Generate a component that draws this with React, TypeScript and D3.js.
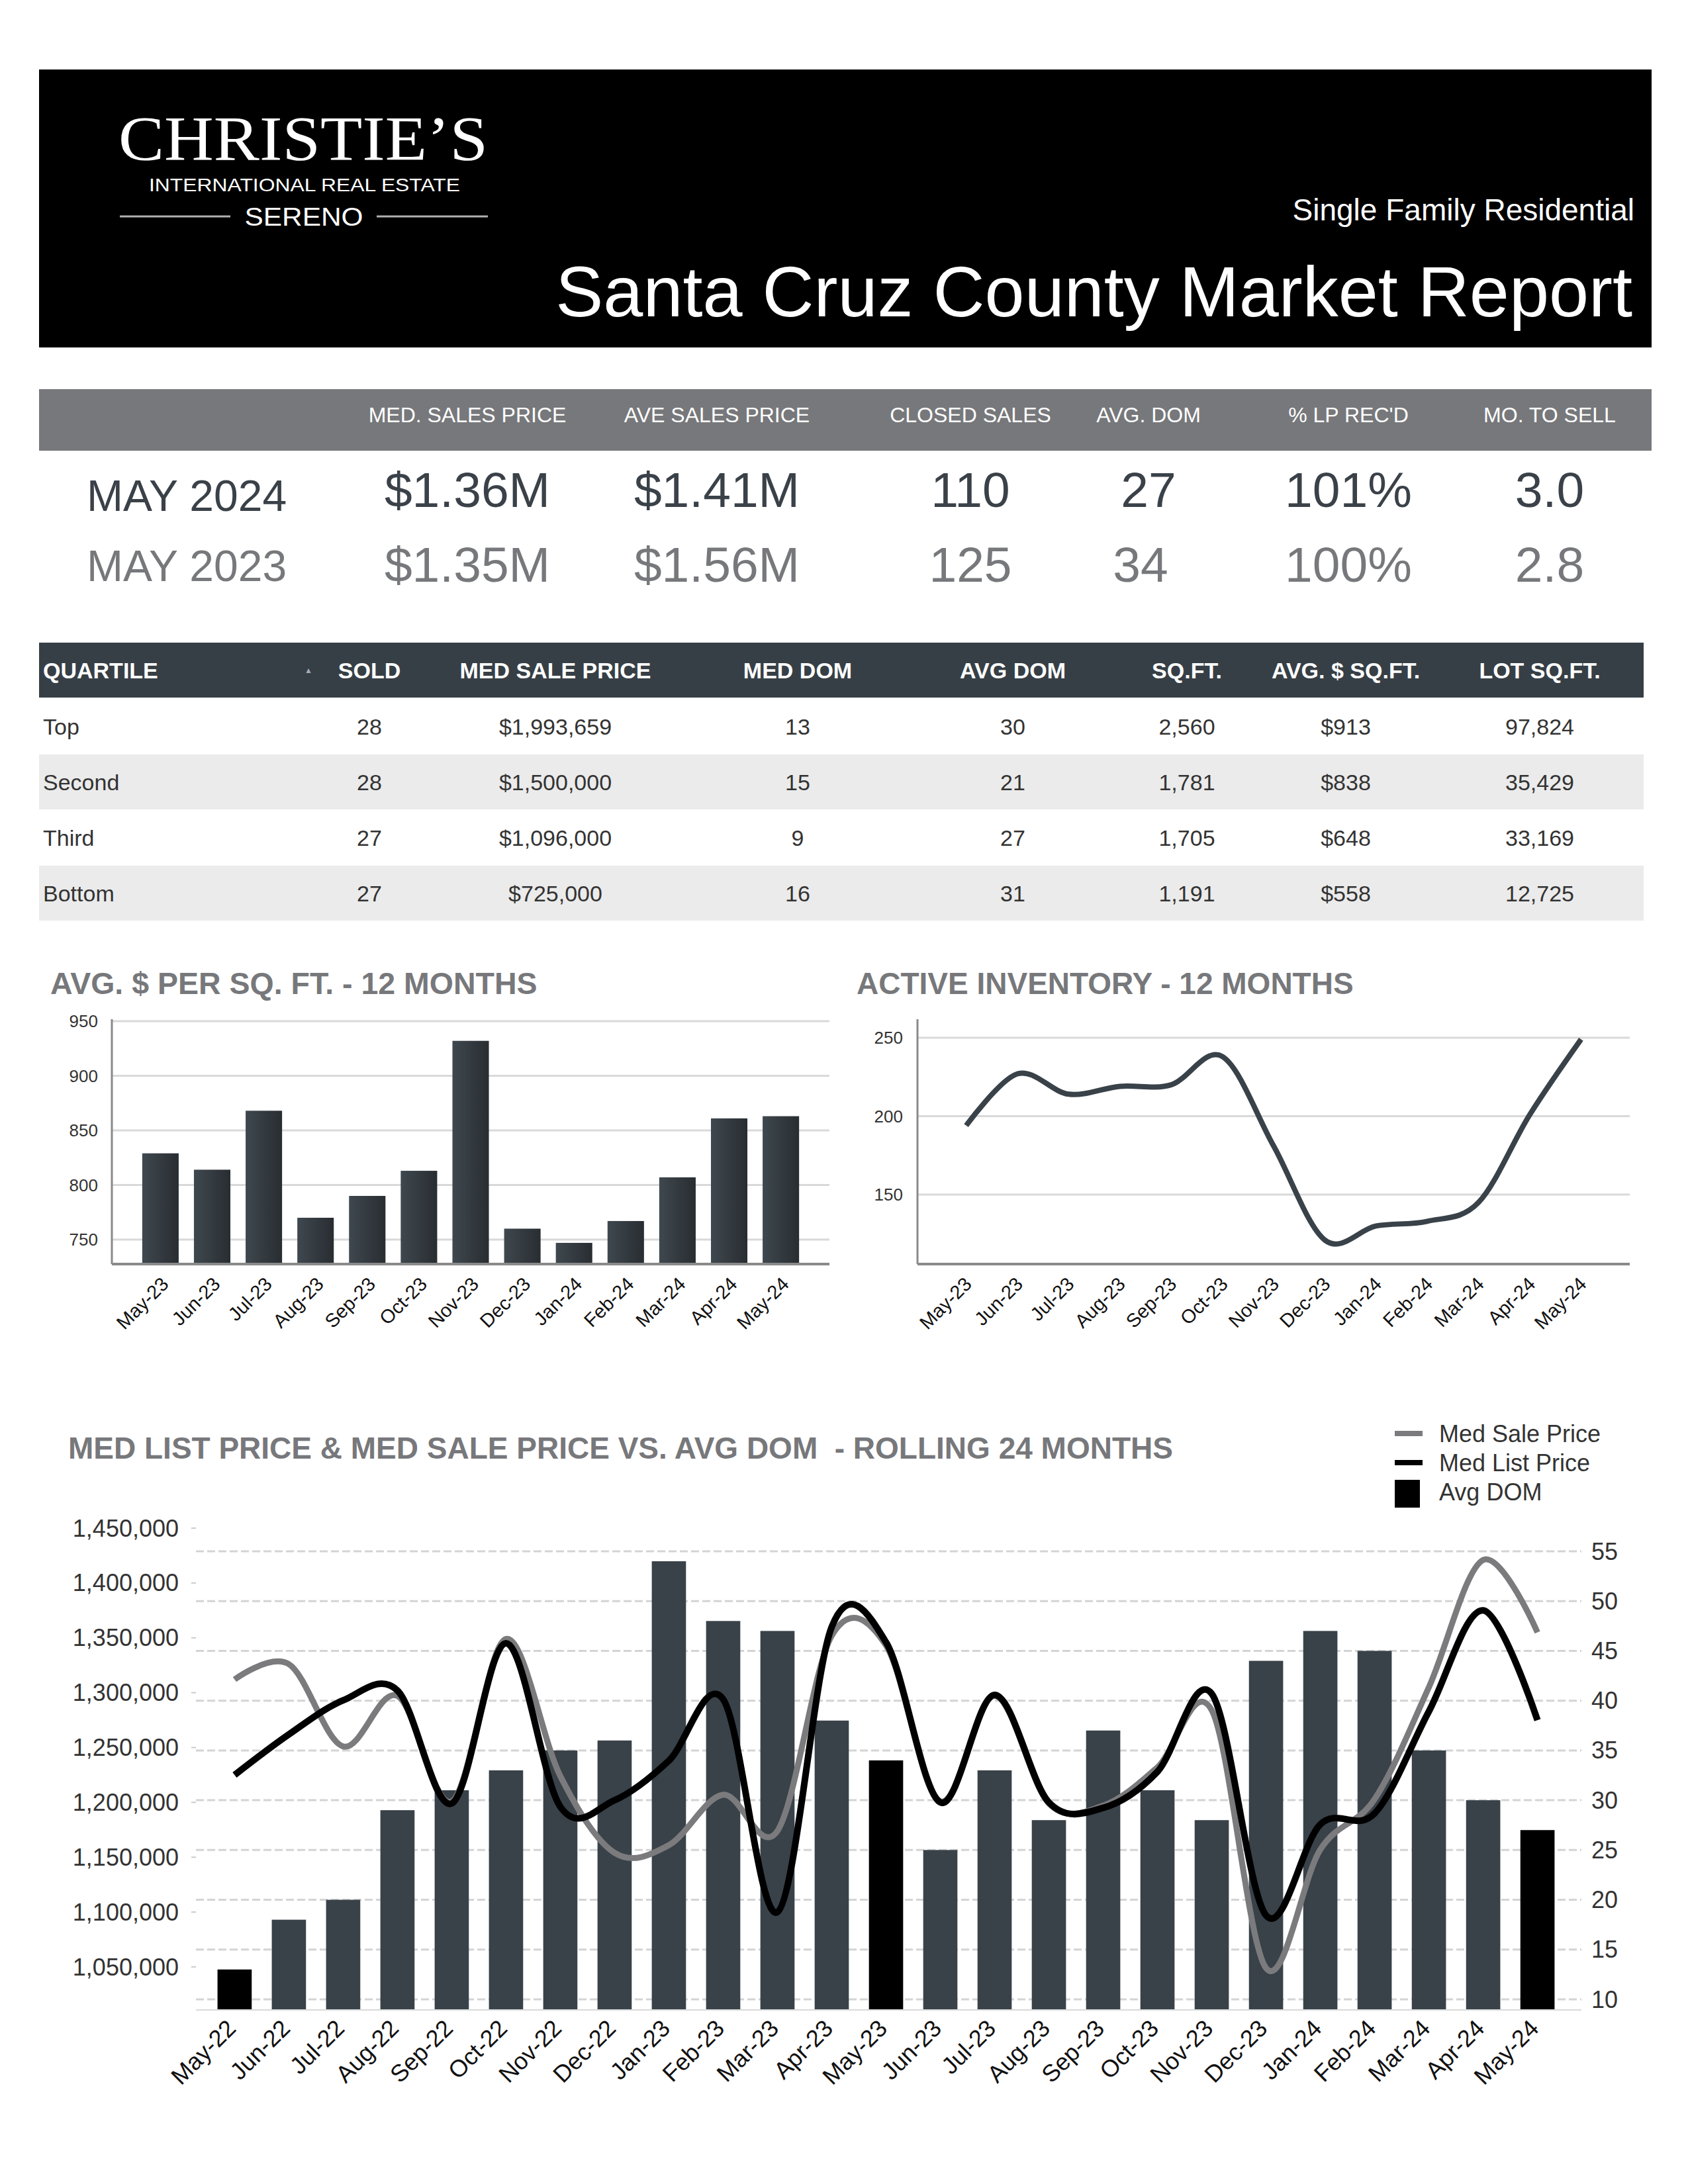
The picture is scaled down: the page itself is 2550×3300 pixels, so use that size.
import * as d3 from 'd3';

const FONT = '"Liberation Sans", Arial, Helvetica, sans-serif';
const SERIF = '"Liberation Serif", "Times New Roman", serif';
const SLATE = '#394249';
const HEAD_SLATE = '#373f46';
const TITLE_GREY = '#77787b';
const TEXT = '#333333';

// summary strip
const summaryHeaders = ['MED. SALES PRICE', 'AVE SALES PRICE', 'CLOSED SALES', 'AVG. DOM', "% LP REC'D", 'MO. TO SELL'];
const may2024 = ['$1.36M', '$1.41M', '110', '27', '101%', '3.0'];
const may2023 = ['$1.35M', '$1.56M', '125', '34', '100%', '2.8'];

// quartile table
const quartileHeaders = ['QUARTILE', 'SOLD', 'MED SALE PRICE', 'MED DOM', 'AVG DOM', 'SQ.FT.', 'AVG. $ SQ.FT.', 'LOT SQ.FT.'];
const quartileRows = [
  ['Top', '28', '$1,993,659', '13', '30', '2,560', '$913', '97,824'],
  ['Second', '28', '$1,500,000', '15', '21', '1,781', '$838', '35,429'],
  ['Third', '27', '$1,096,000', '9', '27', '1,705', '$648', '33,169'],
  ['Bottom', '27', '$725,000', '16', '31', '1,191', '$558', '12,725'],
];

// 12 month charts
const months13 = ['May-23', 'Jun-23', 'Jul-23', 'Aug-23', 'Sep-23', 'Oct-23', 'Nov-23', 'Dec-23', 'Jan-24', 'Feb-24', 'Mar-24', 'Apr-24', 'May-24'];
const avgPricePerSqft = [829, 814, 868, 770, 790, 813, 932, 760, 747, 767, 807, 861, 863];
const ppsfTicks = [750, 800, 850, 900, 950];
const activeInventory = [194, 227, 214, 219, 220, 238, 181, 121, 130, 133, 145, 201, 249];
const inventoryTicks = [150, 200, 250];

// rolling 24 months
const months25 = ['May-22', 'Jun-22', 'Jul-22', 'Aug-22', 'Sep-22', 'Oct-22', 'Nov-22', 'Dec-22', 'Jan-23', 'Feb-23', 'Mar-23', 'Apr-23', 'May-23', 'Jun-23', 'Jul-23', 'Aug-23', 'Sep-23', 'Oct-23', 'Nov-23', 'Dec-23', 'Jan-24', 'Feb-24', 'Mar-24', 'Apr-24', 'May-24'];
const avgDom = [13, 18, 20, 29, 31, 33, 35, 36, 54, 48, 47, 38, 34, 25, 33, 28, 37, 31, 28, 44, 47, 45, 35, 30, 27];
const highlightMonths = ['May-22', 'May-23', 'May-24'];
const medListPrice = [1225000, 1262000, 1293000, 1302000, 1199000, 1345000, 1196000, 1202000, 1238000, 1294000, 1100000, 1360000, 1346000, 1200000, 1298000, 1200000, 1195000, 1228000, 1299000, 1097000, 1180000, 1190000, 1283000, 1375000, 1275000];
const medSalePrice = [1312000, 1326000, 1251000, 1297000, 1201000, 1349000, 1224000, 1154000, 1161000, 1207000, 1174000, 1352000, 1343000, 1201000, 1297000, 1199000, 1197000, 1232000, 1284000, 1049000, 1157000, 1203000, 1305000, 1421000, 1355000];
const priceTicks = [1050000, 1100000, 1150000, 1200000, 1250000, 1300000, 1350000, 1400000, 1450000];
const domTicks = [10, 15, 20, 25, 30, 35, 40, 45, 50, 55];
const legendItems = [
  { label: 'Med Sale Price', kind: 'line', color: '#7b7b7e' },
  { label: 'Med List Price', kind: 'line', color: '#000000' },
  { label: 'Avg DOM', kind: 'box', color: '#000000' },
];

function Header() {
  return (
    <g>
      <rect x={59} y={105} width={2436} height={420} fill="#000" />
      <text x={179} y={242} fill="#fff" fontFamily={SERIF} fontSize={96} textLength={558} lengthAdjust="spacingAndGlyphs">CHRISTIE’S</text>
      <text x={225} y={289} fill="#fff" fontFamily={FONT} fontSize={28} textLength={470} lengthAdjust="spacingAndGlyphs">INTERNATIONAL REAL ESTATE</text>
      <line x1={181} x2={348} y1={327} y2={327} stroke="#b0b0b0" strokeWidth={3} />
      <line x1={569} x2={737} y1={327} y2={327} stroke="#b0b0b0" strokeWidth={3} />
      <text x={459} y={341} fill="#fff" fontFamily={FONT} fontSize={38} textAnchor="middle" textLength={179} lengthAdjust="spacingAndGlyphs">SERENO</text>
      <text x={2469} y={333} fill="#fff" fontFamily={FONT} fontSize={46} textAnchor="end">Single Family Residential</text>
      <text x={2466} y={478} fill="#fff" fontFamily={FONT} fontSize={108} textAnchor="end">Santa Cruz County Market Report</text>
    </g>
  );
}

function Summary() {
  const cx = [706, 1083, 1466, 1735, 2037, 2341];
  return (
    <g fontFamily={FONT}>
      <rect x={59} y={588} width={2436} height={93} fill="#77787b" />
      {summaryHeaders.map((h, i) => (
        <text key={h} x={cx[i]} y={638} fill="#fff" fontSize={32} textAnchor="middle">{h}</text>
      ))}
      <text x={131} y={772} fill="#3a4148" fontSize={66}>MAY 2024</text>
      {may2024.map((v, i) => (
        <text key={'a' + i} x={cx[i]} y={766} fill="#3a4148" fontSize={75} textAnchor="middle">{v}</text>
      ))}
      <text x={131} y={878} fill="#77787b" fontSize={66}>MAY 2023</text>
      {may2023.map((v, i) => (
        <text key={'b' + i} x={i === 3 ? cx[i] - 12 : cx[i]} y={879} fill="#77787b" fontSize={75} textAnchor="middle">{v}</text>
      ))}
    </g>
  );
}

function QuartileTable() {
  const colX = [65, 558, 839, 1205, 1530, 1793, 2033, 2326];
  const rowH = 84;
  const top = 1056;
  return (
    <g fontFamily={FONT}>
      <rect x={59} y={971} width={2424} height={83} fill={HEAD_SLATE} />
      {quartileHeaders.map((h, i) => (
        <text key={h} x={colX[i]} y={1013} dy="0.35em" fill="#fff" fontSize={34} fontWeight="bold" textAnchor={i === 0 ? 'start' : 'middle'}>{h}</text>
      ))}
      <text x={466} y={1013} dy="0.35em" fill="#aab" fontSize={12} textAnchor="middle">▲</text>
      {quartileRows.map((row, r) => (
        <g key={row[0]}>
          <rect x={59} y={top + r * rowH} width={2424} height={rowH - 1} fill={r % 2 === 1 ? '#ebebeb' : '#fff'} />
          {row.map((c, i) => (
            <text key={i} x={colX[i]} y={top + r * rowH + rowH / 2} dy="0.35em" fill={TEXT} fontSize={34} textAnchor={i === 0 ? 'start' : 'middle'}>{c}</text>
          ))}
        </g>
      ))}
    </g>
  );
}

function PricePerSqftChart() {
  const left = 169, right = 1253, top = 1540, bottom = 1910;
  const x = d3.scaleBand().domain(months13).range([left, right]).paddingInner(0.295).paddingOuter(0.587);
  const y = d3.scaleLinear().domain([750, 950]).range([1873, 1543]);
  return (
    <g fontFamily={FONT}>
      <defs>
        <linearGradient id="barGrad" x1="0" x2="1" y1="0" y2="0">
          <stop offset="0" stopColor="#3f484f" />
          <stop offset="1" stopColor="#282d31" />
        </linearGradient>
      </defs>
      <text x={76} y={1502} fill={TITLE_GREY} fontSize={46.5} fontWeight="bold">AVG. $ PER SQ. FT. - 12 MONTHS</text>
      {ppsfTicks.map(t => (
        <g key={t}>
          <line x1={left} x2={right} y1={y(t)} y2={y(t)} stroke="#d9d9d9" strokeWidth={3} />
          <text x={148} y={y(t)} dy="0.35em" fill={TEXT} fontSize={26} textAnchor="end">{t}</text>
        </g>
      ))}
      {months13.map((m, i) => (
        <rect key={m} x={x(m)} y={y(avgPricePerSqft[i])} width={x.bandwidth()} height={bottom - y(avgPricePerSqft[i])} fill="url(#barGrad)" />
      ))}
      <line x1={left} x2={left} y1={top} y2={bottom} stroke="#8a8a8a" strokeWidth={3} />
      <line x1={left} x2={right} y1={bottom} y2={bottom} stroke="#8a8a8a" strokeWidth={4} />
      {months13.map(m => (
        <text key={m} transform={`translate(${(x(m) ?? 0) + x.bandwidth() / 2 + 14},${bottom + 32}) rotate(-45)`} fill="#111" fontSize={29} textAnchor="end">{m}</text>
      ))}
    </g>
  );
}

function InventoryChart() {
  const left = 1386, right = 2462, top = 1540, bottom = 1910;
  const x = d3.scalePoint().domain(months13).range([left, right]).padding(0.95);
  const y = d3.scaleLinear().domain([150, 250]).range([1805, 1568]);
  const line = d3.line<number>()
    .x((_, i) => x(months13[i]) ?? 0)
    .y(d => y(d))
    .curve(d3.curveCardinal.tension(0));
  return (
    <g fontFamily={FONT}>
      <text x={1294} y={1502} fill={TITLE_GREY} fontSize={46} fontWeight="bold">ACTIVE INVENTORY - 12 MONTHS</text>
      {inventoryTicks.map(t => (
        <g key={t}>
          <line x1={left} x2={right} y1={y(t)} y2={y(t)} stroke="#d9d9d9" strokeWidth={3} />
          <text x={1364} y={y(t)} dy="0.35em" fill={TEXT} fontSize={26} textAnchor="end">{t}</text>
        </g>
      ))}
      <path d={line(activeInventory) ?? ''} fill="none" stroke={SLATE} strokeWidth={8} />
      <line x1={left} x2={left} y1={top} y2={bottom} stroke="#8a8a8a" strokeWidth={3} />
      <line x1={left} x2={right} y1={bottom} y2={bottom} stroke="#8a8a8a" strokeWidth={4} />
      {months13.map(m => (
        <text key={m} transform={`translate(${(x(m) ?? 0) + 10},${bottom + 32}) rotate(-45)`} fill="#111" fontSize={29} textAnchor="end">{m}</text>
      ))}
    </g>
  );
}

function RollingChart() {
  const left = 296, right = 2389, bottom = 3037;
  const x = d3.scaleBand().domain(months25).range([297, 2380]).paddingInner(0.37).paddingOuter(0.385);
  const yPrice = d3.scaleLinear().domain([1050000, 1450000]).range([2972, 2309]);
  const yDom = d3.scaleLinear().domain([10, 55]).range([3021, 2344]);
  const cx = (i: number) => (x(months25[i]) ?? 0) + x.bandwidth() / 2;
  const line = d3.line<number>()
    .x((_, i) => cx(i))
    .y(d => yPrice(d))
    .curve(d3.curveCardinal.tension(0));
  const fmt = d3.format(',');
  return (
    <g fontFamily={FONT}>
      <text x={103} y={2204} fill={TITLE_GREY} fontSize={46} fontWeight="bold" xmlSpace="preserve">MED LIST PRICE &amp; MED SALE PRICE VS. AVG DOM  - ROLLING 24 MONTHS</text>
      {legendItems.map((it, i) => (
        <g key={it.label}>
          {it.kind === 'line'
            ? <line x1={2107} x2={2149} y1={2166 + i * 44} y2={2166 + i * 44} stroke={it.color} strokeWidth={8} />
            : <rect x={2107} y={2236} width={38} height={42} fill={it.color} />}
          <text x={2174} y={2166 + i * 44} dy="0.35em" fill={TEXT} fontSize={36}>{it.label}</text>
        </g>
      ))}
      {domTicks.map(t => (
        <g key={t}>
          <line x1={left} x2={right} y1={yDom(t)} y2={yDom(t)} stroke="#d4d4d4" strokeWidth={3} strokeDasharray="12,5" />
          <text x={2404} y={yDom(t)} dy="0.35em" fill={TEXT} fontSize={36}>{t}</text>
        </g>
      ))}
      {priceTicks.map(t => (
        <g key={t}>
          <line x1={289} x2={296} y1={yPrice(t)} y2={yPrice(t)} stroke="#cccccc" strokeWidth={2} />
          <text x={270} y={yPrice(t)} dy="0.35em" fill={TEXT} fontSize={36} textAnchor="end">{fmt(t)}</text>
        </g>
      ))}
      {months25.map((m, i) => (
        <rect key={m} x={x(m)} y={yDom(avgDom[i])} width={x.bandwidth()} height={bottom - yDom(avgDom[i])}
          fill={highlightMonths.includes(m) ? '#000' : SLATE} />
      ))}
      <line x1={left} x2={right} y1={bottom} y2={bottom} stroke="#d9d9d9" strokeWidth={2} />
      <path d={line(medSalePrice) ?? ''} fill="none" stroke="#7b7b7e" strokeWidth={9} />
      <path d={line(medListPrice) ?? ''} fill="none" stroke="#000" strokeWidth={10} />
      {months25.map((m, i) => (
        <text key={m} transform={`translate(${cx(i) + 4},${bottom + 30}) rotate(-45)`} fill="#111" fontSize={36} textAnchor="end">{m}</text>
      ))}
    </g>
  );
}

export default function App() {
  return (
    <svg width={2550} height={3300} viewBox="0 0 2550 3300" style={{ position: 'absolute', left: 0, top: 0, background: '#fff' }}>
      <rect width={2550} height={3300} fill="#fff" />
      <Header />
      <Summary />
      <QuartileTable />
      <PricePerSqftChart />
      <InventoryChart />
      <RollingChart />
    </svg>
  );
}
